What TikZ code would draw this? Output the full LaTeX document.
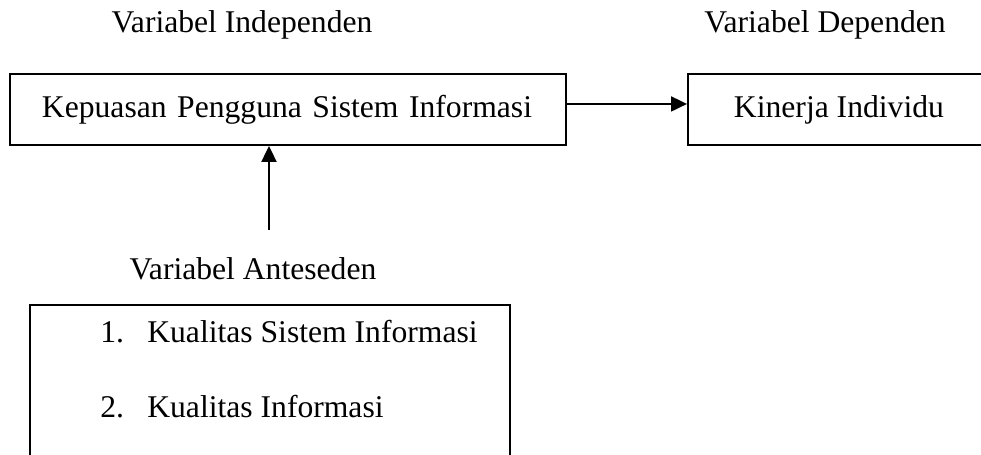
\documentclass[tikz,border=0pt]{standalone}
\usepackage{fontspec}
\setmainfont{Liberation Serif}
\usetikzlibrary{arrows.meta,positioning}
\usepackage{xcolor}
\definecolor{vbInk}{RGB}{0,0,0}
\tikzset{
    varbox/.style={
        draw=vbInk,line width=1.1pt,inner ysep=0pt,
        font=\fontsize{18pt}{21.6pt}\selectfont,text=vbInk
    },
    lbl/.style={
        inner sep=0pt,anchor=base,
        font=\fontsize{18pt}{21.6pt}\selectfont,text=vbInk
    },
    arrow/.style={
        -{Triangle[length=0.32cm,width=0.3cm]},line width=1.1pt,draw=vbInk
    }
}

\begin{document}
\begin{tikzpicture}[x=0.02cm,y=-0.02cm]

\useasboundingbox (0,0) rectangle (981,455);
\clip (0,0) rectangle (981,455);

\node[lbl](li) at (242,33) {Variabel Independen};
\node[lbl](ld) at (825,33) {Variabel Dependen};

\node[
varbox,anchor=north west,inner xsep=0.64cm,
minimum width=11.12cm,minimum height=1.42cm,
text width=9.84cm,align=left
](kp) at (9,73)
{Kepuasan Pengguna Sistem Informasi};

\node[
varbox,anchor=north west,
minimum width=6.04cm,minimum height=1.42cm
](ki) at (687,73)
{Kinerja Individu};

\draw[arrow]([yshift=0.11cm]kp.east)--([yshift=0.11cm]ki.west);

\node[lbl](la) at (253,280) {Variabel Anteseden};

\node[
varbox,anchor=north west,
minimum width=9.6cm,minimum height=3.6cm
](ant) at (29,304) {};

\node[lbl,anchor=base west](n1) at (100,343) {1.};
\node[lbl,anchor=base west](k1) at (147,343) {Kualitas Sistem Informasi};
\node[lbl,anchor=base west](n2) at (100,418) {2.};
\node[lbl,anchor=base west](k2) at (147,418) {Kualitas Informasi};

\coordinate (s) at (269,230);
\draw[arrow](s)--(s |- kp.south);

\end{tikzpicture}
\end{document}
